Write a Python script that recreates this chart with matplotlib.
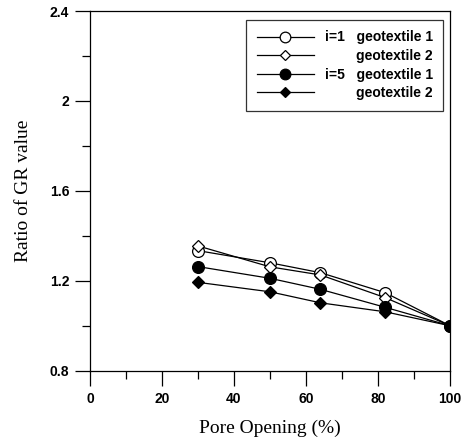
import matplotlib
matplotlib.use('Agg')
import matplotlib.pyplot as plt

pore = [30, 50, 64, 82, 100]
i1_geo1 = [1.334, 1.28, 1.236, 1.147, 1.0]
i1_geo2 = [1.355, 1.262, 1.226, 1.125, 1.0]
i5_geo1 = [1.263, 1.211, 1.162, 1.082, 1.0]
i5_geo2 = [1.193, 1.151, 1.102, 1.062, 1.0]
labels = ['i=1   geotextile 1', '        geotextile 2', 'i=5   geotextile 1', '        geotextile 2']

fig = plt.figure(figsize=(4.68, 4.42), dpi=100)
ax = fig.add_axes([90/468, 71.3/442, 360/468, 359.7/442])

kw = dict(color='black', lw=0.9, markeredgecolor='black', markeredgewidth=0.9)
ax.plot(pore, i1_geo1, marker='o', ms=8.5, mfc='white', label=labels[0], **kw)
ax.plot(pore, i1_geo2, marker='D', ms=6, mfc='white', label=labels[1], **kw)
ax.plot(pore, i5_geo1, marker='o', ms=8.5, mfc='black', label=labels[2], **kw)
ax.plot(pore, i5_geo2, marker='D', ms=6, mfc='black', label=labels[3], **kw)

ax.set_xlim(0, 100)
ax.set_ylim(0.8, 2.4)
ax.set_xticks([0, 20, 40, 60, 80, 100])
ax.set_xticks([10, 30, 50, 70, 90], minor=True)
ax.set_yticks([0.8, 1.2, 1.6, 2.0, 2.4])
ax.set_yticklabels(['0.8', '1.2', '1.6', '2', '2.4'])
ax.set_yticks([1.0, 1.4, 1.8, 2.2], minor=True)
ax.tick_params(which='major', direction='out', length=11, width=0.9, pad=4)
ax.tick_params(which='minor', direction='out', length=5.5, width=0.9)
for t in ax.get_xticklabels() + ax.get_yticklabels():
    t.set_family('Liberation Sans')
    t.set_fontweight('bold')
    t.set_fontsize(10)
for s in ax.spines.values():
    s.set_linewidth(0.9)

ax.set_xlabel('Pore Opening (%)', family='Liberation Serif', fontsize=14, labelpad=10)
ax.set_ylabel('Ratio of GR value', family='Liberation Serif', fontsize=14, labelpad=13)

leg = ax.legend(loc='upper right', bbox_to_anchor=(0.981, 0.975), borderaxespad=0,
                frameon=True, fancybox=False, edgecolor='black', handlelength=4.1,
                handletextpad=0.8, labelspacing=0.33, borderpad=0.75, markerscale=0.9,
                prop={'family': 'Liberation Sans', 'weight': 'bold', 'size': 10})
leg.get_frame().set_linewidth(0.9)

fig.savefig('out.png', dpi=100)
